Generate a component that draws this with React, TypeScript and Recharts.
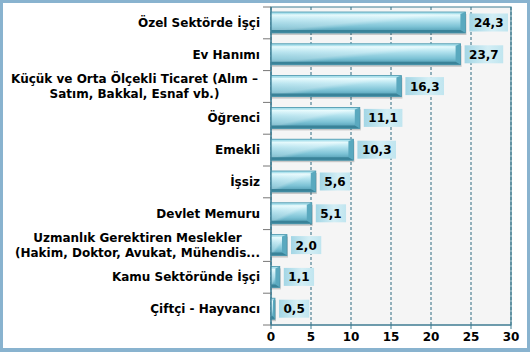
import React from 'react'
import { BarChart, Bar, XAxis, YAxis, CartesianGrid, LabelList, ReferenceArea } from 'recharts'

const categories = [
  'Özel Sektörde İşçi',
  'Ev Hanımı',
  'Küçük  ve Orta Ölçekli Ticaret (Alım –\nSatım, Bakkal, Esnaf vb.)',
  'Öğrenci',
  'Emekli',
  'İşsiz',
  'Devlet Memuru',
  'Uzmanlık Gerektiren Meslekler\n(Hakim, Doktor, Avukat, Mühendis...',
  'Kamu Sektöründe İşçi',
  'Çiftçi - Hayvancı',
]
const values = [24.3, 23.7, 16.3, 11.1, 10.3, 5.6, 5.1, 2.0, 1.1, 0.5]
const xTicks = [0, 5, 10, 15, 20, 25, 30]

const W = 530
const H = 352
const MARGIN = { top: 7, right: 19, bottom: 7, left: 0 }
const X_AXIS_H = 20
const Y_AXIS_W = 271
const BAND = (H - MARGIN.top - MARGIN.bottom - X_AXIS_H) / categories.length
const FONT = '"DejaVu Sans", Verdana, sans-serif'
const AXIS = '#3f7d92'

let ctx: CanvasRenderingContext2D | null = null
function textWidth(s: string) {
  if (!ctx) ctx = document.createElement('canvas').getContext('2d')
  if (!ctx) return s.length * 7.5
  ctx.font = `bold 12px ${FONT}`
  return ctx.measureText(s).width
}

const fmt = (v: number) => v.toFixed(1).replace('.', ',')

function CategoryTick(props: any) {
  const { x, y, payload, index } = props
  const lines = String(payload.value).split('\n')
  const axisX = x + 11
  const ticks = [<line key="b" x1={axisX - 8} x2={axisX} y1={y + BAND / 2} y2={y + BAND / 2} stroke="#777" />]
  if (index === 0) ticks.push(<line key="t" x1={axisX - 8} x2={axisX} y1={y - BAND / 2} y2={y - BAND / 2} stroke="#777" />)
  let label
  if (lines.length === 1) {
    label = (
      <text x={x} y={y + 4} textAnchor="end" fontFamily={FONT} fontWeight="bold" fontSize={12} fill="#000">
        {lines[0]}
      </text>
    )
  } else {
    const w = Math.max(...lines.map(textWidth))
    const cx = x - w / 2
    label = (
      <text x={cx} y={y - 3.5} textAnchor="middle" fontFamily={FONT} fontWeight="bold" fontSize={12} fill="#000">
        {lines.map((l, i) => (
          <tspan key={i} x={cx} dy={i === 0 ? 0 : 15}>{l}</tspan>
        ))}
      </text>
    )
  }
  return (
    <g>
      {ticks}
      {label}
    </g>
  )
}

function GlassBar(props: any) {
  const { x, y, width, height } = props
  if (!width || width <= 0) return null
  const b = Math.min(5, width / 2)
  return (
    <g>
      <rect x={x + 1} y={y + 2} width={width} height={height} fill="rgba(0,0,0,0.18)" />
      <rect x={x} y={y} width={width} height={height} fill="url(#barGrad)" />
      <rect x={x} y={y} width={width} height={height} fill="url(#barShine)" />
      <polygon points={`${x},${y} ${x + width},${y} ${x + width - b},${y + 2} ${x},${y + 2}`} fill="#aee6f1" opacity={0.7} />
      <polygon points={`${x + width - b},${y + 2} ${x + width},${y} ${x + width},${y + height} ${x + width - b},${y + height - 3}`} fill="#5aa9bf" />
      <polygon points={`${x},${y + height - 3} ${x + width - b},${y + height - 3} ${x + width},${y + height} ${x},${y + height}`} fill="#3a8399" />
      <rect x={x} y={y} width={width} height={height} fill="none" stroke="#4c97ad" strokeWidth={0.8} />
    </g>
  )
}

function ValueLabel(props: any) {
  const { x, y, width, height, value } = props
  const s = fmt(Number(value))
  const w = textWidth(s) + 9
  const bx = x + width + 4
  const cy = y + height / 2
  return (
    <g>
      <rect x={bx} y={cy - 9} width={w} height={18} fill="url(#lblGrad)" />
      <text x={bx + w / 2} y={cy + 4.5} textAnchor="middle" fontFamily={FONT} fontWeight="bold" fontSize={12} fill="#000">
        {s}
      </text>
    </g>
  )
}

export default function App() {
  const data = categories.map((name, i) => ({ name, value: values[i] }))

  return (
    <div style={{ position: 'absolute', left: 0, top: 0, width: W, height: H, background: '#fff' }}>
      <BarChart width={W} height={H} data={data} layout="vertical" margin={MARGIN} barSize={21}>
        <defs>
          <linearGradient id="barGrad" x1="0" y1="0" x2="0" y2="1">
            <stop offset="0" stopColor="#69b9cd" />
            <stop offset="0.14" stopColor="#e4fafd" />
            <stop offset="0.38" stopColor="#b2e2ee" />
            <stop offset="0.7" stopColor="#7cc2d5" />
            <stop offset="1" stopColor="#4592aa" />
          </linearGradient>
          <linearGradient id="barShine" x1="0" y1="0" x2="1" y2="1">
            <stop offset="0" stopColor="#ffffff" stopOpacity={0} />
            <stop offset="0.45" stopColor="#ffffff" stopOpacity={0.25} />
            <stop offset="0.55" stopColor="#ffffff" stopOpacity={0} />
          </linearGradient>
          <linearGradient id="lblGrad" x1="0" y1="0" x2="1" y2="0">
            <stop offset="0" stopColor="#a3d6e5" />
            <stop offset="0.6" stopColor="#d3eef5" />
            <stop offset="1" stopColor="#c0e5ef" />
          </linearGradient>
        </defs>
        <CartesianGrid horizontal={false} stroke="#2f6b80" strokeDasharray="3 2" fill="#f5f5f5" />
        <XAxis
          type="number"
          domain={[0, 30]}
          ticks={xTicks}
          height={X_AXIS_H}
          interval={0}
          stroke={AXIS}
          tickSize={4}
          tickMargin={3}
          tick={{ fill: '#000', fontSize: 12, fontWeight: 'bold', fontFamily: FONT }}
        />
        <YAxis
          type="category"
          dataKey="name"
          width={Y_AXIS_W}
          interval={0}
          stroke={AXIS}
          tickLine={false}
          tickSize={11}
          tickMargin={0}
          tick={<CategoryTick />}
        />
        <ReferenceArea x1={0} x2={30} fill="none" stroke={AXIS} strokeWidth={1.2} />
        <Bar dataKey="value" shape={<GlassBar />} isAnimationActive={false}>
          <LabelList dataKey="value" content={<ValueLabel />} />
        </Bar>
      </BarChart>
      <div
        style={{
          position: 'absolute',
          inset: 0,
          boxSizing: 'border-box',
          borderStyle: 'solid',
          borderColor: '#89b3cf',
          borderWidth: '3px 3px 4px 3px',
          pointerEvents: 'none',
        }}
      />
    </div>
  )
}
